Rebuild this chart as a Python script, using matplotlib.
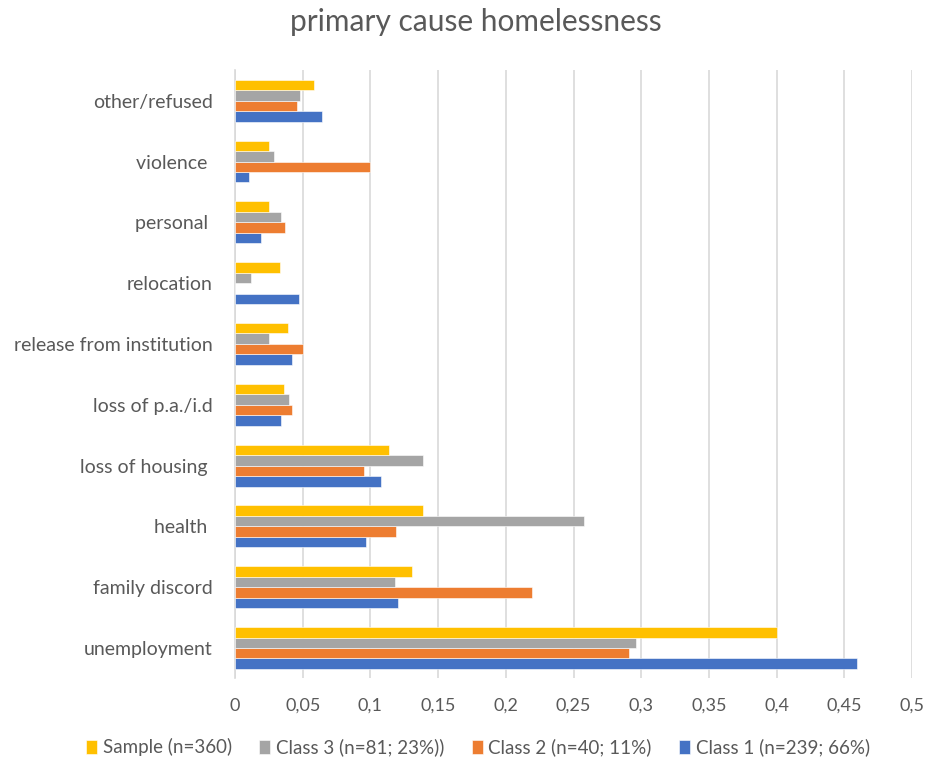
import numpy as np
import matplotlib.pyplot as plt
from matplotlib.ticker import FuncFormatter

plt.rcParams['font.family'] = ['Lato', 'DejaVu Sans']

# causes, bottom to top as drawn on the category axis
causes = ['unemployment', 'family discord', 'health ', 'loss of housing ',
          'loss of p.a./i.d', 'release from institution', 'relocation',
          'personal ', 'violence ', 'other/refused']

class1 = [0.459, 0.120, 0.097, 0.108, 0.034, 0.042, 0.047, 0.019, 0.010, 0.064]
class2 = [0.291, 0.219, 0.119, 0.095, 0.042, 0.050, 0.000, 0.037, 0.100, 0.046]
class3 = [0.296, 0.118, 0.258, 0.139, 0.040, 0.025, 0.012, 0.034, 0.029, 0.048]
sample = [0.400, 0.131, 0.139, 0.114, 0.036, 0.039, 0.033, 0.025, 0.025, 0.058]

series = [
    ('Class 1 (n=239; 66%)', class1, '#4472C4'),
    ('Class 2 (n=40; 11%)', class2, '#ED7D31'),
    ('Class 3 (n=81; 23%))', class3, '#A5A5A5'),
    ('Sample (n=360)', sample, '#FFC000'),
]

fig = plt.figure(figsize=(9.28, 7.64), dpi=100)
ax = fig.add_axes([0.2532, 0.112, 0.7298, 0.796])

y = np.arange(len(causes))
h = 0.172
handles = []
for i, (name, vals, col) in enumerate(series):
    b = ax.barh(y + (i - 1.5) * h, vals, height=h, color=col, label=name,
                edgecolor='white', linewidth=0.4, zorder=3)
    handles.append(b)

ax.set_xlim(0, 0.5)
ax.set_ylim(-0.5, len(causes) - 0.5)
ax.set_xticks(np.arange(0, 0.501, 0.05))
ax.xaxis.set_major_formatter(FuncFormatter(
    lambda v, p: '0' if v == 0 else ('%g' % round(v, 2)).replace('.', ',')))
ax.set_yticks(y)
ax.set_yticklabels(causes)
ax.tick_params(axis='both', length=0, colors='#595959')
ax.tick_params(axis='x', pad=14, labelsize=13)
ax.tick_params(axis='y', pad=16, labelsize=14)
ax.grid(axis='x', color='#D9D9D9', linewidth=1.2, zorder=0)
for s in ['top', 'right', 'bottom']:
    ax.spines[s].set_visible(False)
ax.spines['left'].set_color('#D9D9D9')
ax.spines['left'].set_linewidth(1.2)

fig.suptitle('primary cause homelessness', x=0.513, y=0.99,
             fontsize=21.5, color='#595959')

fig.legend(handles[::-1], [s[0] for s in series][::-1], loc='lower center',
           bbox_to_anchor=(0.515, -0.012), ncol=4, frameon=False,
           fontsize=13.5, labelcolor='#595959', handlelength=0.6,
           handleheight=0.75, handletextpad=0.3, columnspacing=1.45)

fig.savefig('out.png', dpi=100)
